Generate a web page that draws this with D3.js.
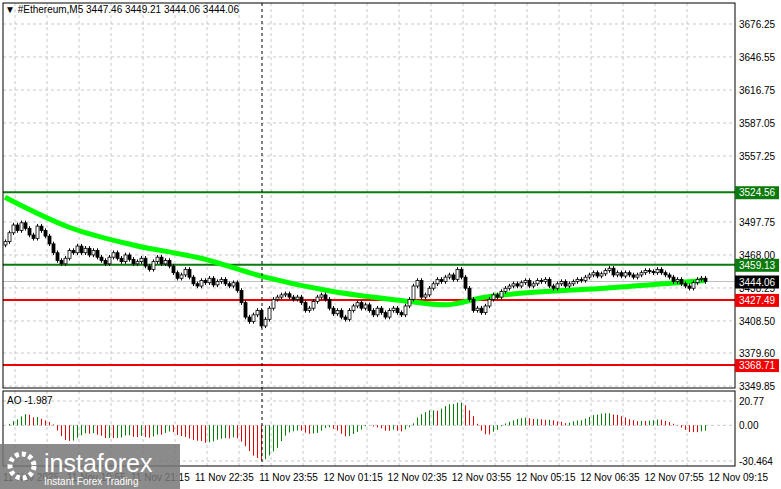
<!DOCTYPE html><html><head><meta charset="utf-8"><script src="https://cdn.jsdelivr.net/npm/d3@7"></script>
<style>body{margin:0;background:#fff}text{font-family:"Liberation Sans",Arial,sans-serif}</style></head><body><svg id="c" width="781" height="489"></svg><script>
const closes=[3480,3488,3495,3490,3497,3492,3486,3483,3494,3490,
3485,3478,3470,3463,3460,
3465,3472,3470,3476,3470,3474,3468,3472,3466,3463,
3460,3466,3470,3465,3462,3468,3464,3460,
3462,3465,3458,3455,3462,3466,3460,3463,
3458,3452,3447,3450,3455,3448,
3442,3440,3445,3443,3447,3441,3444,3446,3442,3440,3443,3436,
3425,3412,3408,3414,3418,3404,
3410,3420,3428,3430,3432,3433,3430,
3428,3430,3425,3418,3420,3426,3430,3432,3428,
3420,3415,3418,3412,3410,3418,3422,3425,3420,3423,
3418,3414,3420,3416,3412,3418,3420,3416,3414,3422,3428,
3440,3445,3430,3432,3438,3442,3446,3444,3448,3450,3446,
3455,3448,3438,3428,3418,3420,
3416,3422,3428,3432,3430,3435,
3438,3440,3442,3440,3443,3445,3440,3442,3445,3444,3446,
3440,3438,3442,3444,3440,3442,3444,3446,3445,3448,
3450,3452,3449,3451,3454,3456,3450,3452,3449,3452,3450,
3448,3450,3452,3454,3453,3452,3455,3452,3450,3448,
3444,3446,3442,3440,3438,3443,3446,3447,3444];
const maPoints=[[0,3520],[16,3493],[32,3477],[49,3465],[65,3448],[82,3435],[99,3427],[110,3423],[120,3430],[135,3435],[150,3438],[168,3443],[175,3445]];
const priceTicks=[3676.25,3646.55,3616.75,3587.05,3557.25,3497.75,3468.00,3438.25,3408.50,3379.60,3349.85];
const levels=[{v:3524.56,c:"#0a7a0a"},{v:3459.13,c:"#0a7a0a"},{v:3427.49,c:"#f00000"},{v:3368.71,c:"#f00000"}];
const timeLabels=["11 Nov 2025","11 Nov 19:55","11 Nov 21:15","11 Nov 22:35","11 Nov 23:55","12 Nov 01:15","12 Nov 02:35","12 Nov 03:55","12 Nov 05:15","12 Nov 06:35","12 Nov 07:55","12 Nov 09:15"];
const aoTicks=[20.77,0.00,-30.464];
const last=3444.06;

const svg=d3.select("#c");
const L=3,R=735,T=3,B=388,AT=391,AB=466;
const x=d3.scaleLinear().domain([0,175]).range([5,705]);
const y=d3.scaleLinear().domain([3349.85,3676.25]).range([386,24]);
const ya=d3.scaleLinear().domain([-30.464,20.77]).range([461,401]);
const med=closes;
function sma(i,n){let s=0;for(let k=0;k<n;k++){s+=med[Math.max(0,i-k)];}return s/n;}
const ao=closes.map((_,i)=>sma(i,5)-sma(i,34));
const aoMax=d3.max(ao.map(Math.abs));
const aoS=ao.map(v=>v*30/aoMax);
const g=svg.append("g");
for(let i=-6;i<=176;i+=8){const xx=x(i)+2;if(xx<L||xx>R)continue;
 g.append("line").attr("x1",xx).attr("x2",xx).attr("y1",T).attr("y2",B).attr("stroke","#c8c8c8").attr("stroke-dasharray","3,3");
 g.append("line").attr("x1",xx).attr("x2",xx).attr("y1",AT).attr("y2",AB).attr("stroke","#c8c8c8").attr("stroke-dasharray","3,3");}
priceTicks.forEach(p=>g.append("line").attr("x1",L).attr("x2",R).attr("y1",y(p)).attr("y2",y(p)).attr("stroke","#c8c8c8").attr("stroke-dasharray","3,3"));
aoTicks.forEach(p=>g.append("line").attr("x1",L).attr("x2",R).attr("y1",ya(p)).attr("y2",ya(p)).attr("stroke","#c8c8c8").attr("stroke-dasharray","3,3"));
svg.append("line").attr("x1",L).attr("x2",R).attr("y1",y(last)).attr("y2",y(last)).attr("stroke","#c0c0c0");
levels.forEach(l=>svg.append("line").attr("x1",L).attr("x2",R).attr("y1",y(l.v)).attr("y2",y(l.v)).attr("stroke",l.c).attr("stroke-width",2));
svg.append("path").datum(maPoints).attr("d",d3.line().x(d=>x(d[0])).y(d=>y(d[1])).curve(d3.curveMonotoneX)).attr("fill","none").attr("stroke","#00ff00").attr("stroke-width",5);
closes.forEach((c,i)=>{const o=i?closes[i-1]:c-3;const hi=Math.max(o,c)+2,lo=Math.min(o,c)-2;const xx=x(i);
 svg.append("line").attr("x1",xx+0.5).attr("x2",xx+0.5).attr("y1",y(hi)).attr("y2",y(lo)).attr("stroke","#000");
 svg.append("rect").attr("x",xx-1).attr("width",3).attr("y",y(Math.max(o,c))).attr("height",Math.max(1,Math.abs(y(o)-y(c)))).attr("fill",c>=o?"#fff":"#000").attr("stroke","#000").attr("stroke-width",0.8);});
aoS.forEach((v,i)=>{svg.append("line").attr("x1",x(i)+0.5).attr("x2",x(i)+0.5).attr("y1",ya(0)).attr("y2",ya(v)).attr("stroke",i&&v<aoS[i-1]?"#e00000":"#008000");});
svg.append("line").attr("x1",262).attr("x2",262).attr("y1",T).attr("y2",AB).attr("stroke","#000").attr("stroke-dasharray","3,3");
svg.append("rect").attr("x",L).attr("y",T).attr("width",R-L).attr("height",B-T).attr("fill","none").attr("stroke","#000");
svg.append("rect").attr("x",L).attr("y",AT).attr("width",R-L).attr("height",AB-AT).attr("fill","none").attr("stroke","#000");
priceTicks.forEach(p=>svg.append("text").attr("x",739).attr("y",y(p)+4).attr("font-size",10).text(p.toFixed(2)));
aoTicks.forEach(p=>svg.append("text").attr("x",739).attr("y",ya(p)+4).attr("font-size",10).text(p===0?"0.00":p));
levels.forEach(l=>{svg.append("rect").attr("x",735).attr("y",y(l.v)-6).attr("width",44).attr("height",13).attr("fill",l.c);
 svg.append("text").attr("x",739).attr("y",y(l.v)+4).attr("font-size",10).attr("fill","#fff").text(l.v.toFixed(2));});
svg.append("rect").attr("x",735).attr("y",y(last)-6).attr("width",44).attr("height",13).attr("fill","#000");
svg.append("text").attr("x",739).attr("y",y(last)+4).attr("font-size",10).attr("fill","#fff").text(last.toFixed(2));
timeLabels.forEach((t,i)=>svg.append("text").attr("x",i<3?3+i*64:195+(i-3)*64.2).attr("y",481).attr("font-size",10).text(t));
svg.append("text").attr("x",5).attr("y",13).attr("font-size",10).text("▼  #Ethereum,M5  3447.46 3449.21 3444.06 3444.06");
svg.append("text").attr("x",7).attr("y",404).attr("font-size",10).text("AO -1.987");
svg.append("rect").attr("x",0).attr("y",444).attr("width",180).attr("height",45).attr("fill","#777").attr("opacity",0.85);
svg.append("text").attr("x",44).attr("y",472).attr("font-size",25).attr("fill","#fff").text("instaforex");
svg.append("text").attr("x",44).attr("y",485).attr("font-size",10).attr("fill","#fff").text("Instant Forex Trading");
svg.append("circle").attr("cx",22).attr("cy",466).attr("r",12).attr("fill","none").attr("stroke","#fff").attr("stroke-width",5).attr("stroke-dasharray","4,3");
</script></body></html>
